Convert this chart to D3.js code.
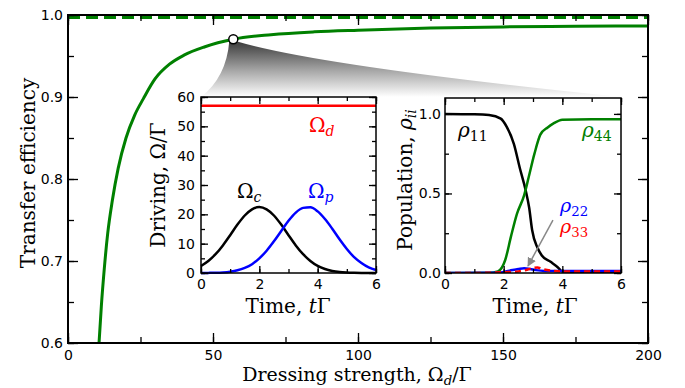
<!DOCTYPE html>
<html>
<head>
<meta charset="utf-8">
<script src="https://cdn.jsdelivr.net/npm/d3@7"></script>
<style>
body { margin: 0; background: #fff; }
.lab { font-family: "DejaVu Serif", serif; font-size: 20px; }
</style>
</head>
<body>
<script>
// main panel: transfer efficiency against dressing strength
const dressing   = [10.7, 11.5, 12.5, 13.7, 15.3, 17.3, 20, 23, 26, 30, 35, 40, 47, 57, 70, 85, 100, 125, 150, 175, 200];
const efficiency = [0.600, 0.645, 0.690, 0.734, 0.774, 0.813, 0.850, 0.878, 0.898, 0.922, 0.940, 0.951, 0.961, 0.9704, 0.976, 0.9795, 0.9815, 0.984, 0.9855, 0.9862, 0.9866];
const idealLevel = 0.997;
const chosenOmega = 57, chosenEff = 0.9704;

// inset 1: driving fields
const driveTime = [0, 0.25, 0.5, 0.75, 1, 1.25, 1.5, 1.75, 2, 2.25, 2.5, 2.75, 3, 3.25, 3.5, 3.75, 4, 4.25, 4.5, 4.75, 5, 5.25, 5.5, 5.75, 6];
const omegaC = [2.4, 4.1, 6.4, 9.4, 12.9, 16.5, 19.6, 21.7, 22.5, 21.7, 19.6, 16.5, 12.9, 9.4, 6.4, 4.1, 2.4, 1.35, 0.7, 0.33, 0.15, 0.06, 0.02, 0.01, 0];
const omegaP = [0.01, 0.04, 0.09, 0.21, 0.46, 0.92, 1.73, 3.0, 5.0, 7.6, 10.8, 14.3, 17.8, 20.6, 22.2, 22.4, 21.0, 18.4, 15.1, 11.5, 8.2, 5.4, 3.4, 1.9, 1.0];
const omegaD = 57;

// inset 2: populations
const rho11Time = [0, 1, 1.5, 1.9, 2.1, 2.35, 2.55, 2.75, 2.87, 2.97, 3.15, 3.3, 3.6, 3.85, 4.0, 5, 6];
const rho11 = [1.0, 0.998, 0.993, 0.97, 0.92, 0.81, 0.66, 0.52, 0.41, 0.27, 0.16, 0.11, 0.07, 0.035, 0.01, 0.005, 0.005];
const rho44Time = [0, 1.5, 1.8, 2.05, 2.25, 2.45, 2.7, 2.85, 3.05, 3.25, 3.5, 3.7, 4.0, 5, 6];
const rho44 = [0, 0.002, 0.01, 0.08, 0.23, 0.37, 0.49, 0.6, 0.75, 0.87, 0.915, 0.94, 0.963, 0.966, 0.966];
const rho22Time = [0, 1.8, 2.2, 2.5, 2.7, 2.9, 3.1, 3.4, 4, 5, 6];
const rho22 = [0, 0.002, 0.015, 0.025, 0.03, 0.025, 0.018, 0.013, 0.012, 0.012, 0.012];
const rho33Time = [0, 1, 1.5, 2, 2.5, 2.8, 3.0, 3.15, 3.3, 3.6, 4, 5, 6];
const rho33 = [0, 0, 0.002, 0.005, 0.01, 0.02, 0.032, 0.035, 0.026, 0.015, 0.01, 0.01, 0.01];

const W = 685, H = 388;
const svg = d3.select("body").append("svg").attr("width", W).attr("height", H);

// SCALES
const xMain = d3.scaleLinear([0, 200], [68, 648]);
const yMain = d3.scaleLinear([0.6, 1.0], [343, 15]);
const xDrv = d3.scaleLinear([0, 6], [201, 376]);
const yDrv = d3.scaleLinear([0, 60], [273, 97]);
const xPop = d3.scaleLinear([0, 6], [445, 621]);
const yPop = d3.scaleLinear([0, 1.1], [273, 98]);

const range = (a, b, s) => d3.range(a, b + s / 2, s);

// draw a boxed frame with inward ticks on all four sides
function frame(g, x, y, o) {
    const [xa, xb] = x.range(), [ya, yb] = y.range();
    const styl = sel => {
        sel.select(".domain").remove();
        sel.attr("font-family", "DejaVu Sans").attr("font-size", 14);
        sel.selectAll("line").attr("stroke-width", 1.3);
        sel.selectAll("text").attr("fill", "#000");
    };
    const put = (axis, tx, ty, vals, size, fmt, pad) => g.append("g")
        .attr("transform", `translate(${tx},${ty})`)
        .call(axis.tickValues(vals).tickSize(-size).tickPadding(pad || 3).tickFormat(fmt || ""))
        .call(styl);
    put(d3.axisBottom(x), 0, ya, o.xMinor, o.small);
    put(d3.axisTop(x), 0, yb, o.xMinor, o.small);
    put(d3.axisLeft(y), xa, 0, o.yMinor, o.small);
    put(d3.axisRight(y), xb, 0, o.yMinor, o.small);
    put(d3.axisBottom(x), 0, ya, o.xMajor, o.big, o.fx, o.padX);
    put(d3.axisTop(x), 0, yb, o.xMajor, o.big);
    put(d3.axisLeft(y), xa, 0, o.yMajor, o.big, o.fy, o.padY);
    put(d3.axisRight(y), xb, 0, o.yMajor, o.big);
    g.append("rect")
        .attr("x", xa).attr("y", yb).attr("width", xb - xa).attr("height", ya - yb)
        .attr("fill", "none").attr("stroke", "#000").attr("stroke-width", o.sw);
}

// MAIN PANEL
const main = svg.append("g");
main.append("clipPath").attr("id", "clipMain").append("rect")
    .attr("x", 68).attr("y", 15).attr("width", 580).attr("height", 328);

main.append("line")
    .attr("x1", xMain(0)).attr("x2", xMain(200))
    .attr("y1", yMain(idealLevel)).attr("y2", yMain(idealLevel))
    .attr("stroke", "#008000").attr("stroke-width", 3).attr("stroke-dasharray", "12,6");

main.append("path")
    .datum(d3.zip(dressing, efficiency))
    .attr("clip-path", "url(#clipMain)")
    .attr("fill", "none").attr("stroke", "#008000").attr("stroke-width", 3)
    .attr("d", d3.line().x(d => xMain(d[0])).y(d => yMain(d[1])).curve(d3.curveMonotoneX));

frame(main, xMain, yMain, {
    xMajor: range(0, 200, 50), xMinor: range(0, 200, 25),
    yMajor: range(0.6, 1.0, 0.1), yMinor: range(0.6, 1.0, 0.05),
    fx: d3.format("d"), fy: d3.format(".1f"), big: 10, small: 6, padX: 7, padY: 5, sw: 2
});

// zoom wedge from the chosen point to the insets
const cx = xMain(chosenOmega), cy = yMain(chosenEff);
const defs = svg.append("defs");
const grad = defs.append("linearGradient").attr("id", "wedge")
    .attr("gradientUnits", "userSpaceOnUse")
    .attr("x1", 0).attr("y1", cy).attr("x2", 0).attr("y2", yDrv(60));
grad.append("stop").attr("offset", 0).attr("stop-color", "#333");
grad.append("stop").attr("offset", 0.55).attr("stop-color", "#a8a8a8");
grad.append("stop").attr("offset", 1).attr("stop-color", "#fff");

const lx = xDrv(0), rx = xPop(6), by = yDrv(60);
svg.append("path")
    .attr("fill", "url(#wedge)")
    .attr("d", `M${cx - 4},${cy + 2} Q${cx - 7},${cy + 38} ${lx},${by} L${rx},${by} Q${cx + 87},${cy + 27} ${cx + 3},${cy + 2} Z`);

svg.append("circle")
    .attr("cx", cx).attr("cy", cy).attr("r", 4.5)
    .attr("fill", "#fff").attr("stroke", "#000").attr("stroke-width", 1.5);

// INSET 1: driving
const drv = svg.append("g");
drv.append("rect").attr("x", 201).attr("y", 97).attr("width", 175).attr("height", 176).attr("fill", "#fff");
const drvLine = d3.line().x((d, i) => xDrv(driveTime[i])).y(d => yDrv(d)).curve(d3.curveMonotoneX);
drv.append("line")
    .attr("x1", xDrv(0)).attr("x2", xDrv(6)).attr("y1", yDrv(omegaD)).attr("y2", yDrv(omegaD))
    .attr("stroke", "#f00").attr("stroke-width", 2.5);
drv.append("path").datum(omegaC).attr("d", drvLine)
    .attr("fill", "none").attr("stroke", "#000").attr("stroke-width", 2.5);
drv.append("path").datum(omegaP).attr("d", drvLine)
    .attr("fill", "none").attr("stroke", "#00f").attr("stroke-width", 2.5);
frame(drv, xDrv, yDrv, {
    xMajor: range(0, 6, 2), xMinor: range(0, 6, 1),
    yMajor: range(0, 60, 10), yMinor: range(0, 60, 5),
    fx: d3.format("d"), fy: d3.format("d"), big: 7, small: 4, padX: 6, padY: 6, sw: 1.5
});

// INSET 2: populations
const pop = svg.append("g");
pop.append("rect").attr("x", 445).attr("y", 98).attr("width", 176).attr("height", 175).attr("fill", "#fff");
pop.append("clipPath").attr("id", "clipPop").append("rect")
    .attr("x", 445).attr("y", 98).attr("width", 176).attr("height", 175);
const popLine = t => d3.line().x((d, i) => xPop(t[i])).y(d => yPop(d)).curve(d3.curveMonotoneX);
const series = [
    [rho11Time, rho11, "#000", null],
    [rho44Time, rho44, "#008000", null],
    [rho22Time, rho22, "#00f", null],
    [rho33Time, rho33, "#f00", "6,4"]
];
series.forEach(([t, v, c, dash]) => {
    pop.append("path").datum(v).attr("d", popLine(t))
        .attr("clip-path", "url(#clipPop)")
        .attr("fill", "none").attr("stroke", c).attr("stroke-width", 2.5)
        .attr("stroke-dasharray", dash);
});
frame(pop, xPop, yPop, {
    xMajor: range(0, 6, 2), xMinor: range(0, 6, 1),
    yMajor: range(0, 1, 0.5), yMinor: range(0, 1, 0.25),
    fx: d3.format("d"), fy: d3.format(".1f"), big: 7, small: 4, padX: 6, padY: 4, sw: 1.5
});

// arrow pointing at the small populations
defs.append("marker").attr("id", "head")
    .attr("viewBox", "0 0 10 10").attr("refX", 9).attr("refY", 5)
    .attr("markerWidth", 9).attr("markerHeight", 9).attr("markerUnits", "userSpaceOnUse")
    .attr("orient", "auto")
    .append("path").attr("d", "M0,0 L10,5 L0,10 Z").attr("fill", "#888");
pop.append("line")
    .attr("x1", xPop(3.68)).attr("y1", yPop(0.333))
    .attr("x2", xPop(2.83)).attr("y2", yPop(0.044))
    .attr("stroke", "#888").attr("stroke-width", 1.5).attr("marker-end", "url(#head)");

// LABELS
// parts: [text, kind]; "i" italic, "sub" italic subscript, "num" upright subscript, "back" return to baseline
function mathLabel(g, x, y, color, parts, rotate, size) {
    const t = g.append("text").attr("class", "lab").attr("fill", color);
    if (size) t.style("font-size", size + "px");
    if (rotate) t.attr("transform", `translate(${x},${y}) rotate(-90)`).attr("text-anchor", "middle");
    else t.attr("x", x).attr("y", y);
    parts.forEach(([s, kind]) => {
        const sp = t.append("tspan").text(s);
        if (kind === "i") sp.attr("font-style", "italic");
        if (kind === "sub") sp.attr("font-style", "italic").attr("font-size", "70%").attr("dy", 4);
        if (kind === "num") sp.attr("font-size", "70%").attr("dy", 4);
        if (kind === "back") sp.attr("dy", -4);
    });
    return t;
}

mathLabel(svg, 357, 381, "#000", [["Dressing strength, Ω"], ["d", "sub"], ["/Γ", "back"]], false, 19)
    .attr("text-anchor", "middle");
mathLabel(svg, 35, 173, "#000", [["Transfer efficiency"]], true);

mathLabel(svg, 165, 185, "#000", [["Driving, Ω/Γ"]], true);
mathLabel(svg, 288, 313, "#000", [["Time, "], ["t", "i"], ["Γ"]], false).attr("text-anchor", "middle");
mathLabel(svg, 412, 180, "#000", [["Population, "], ["ρ", "i"], ["ii", "sub"]], true);
mathLabel(svg, 535, 313, "#000", [["Time, "], ["t", "i"], ["Γ"]], false).attr("text-anchor", "middle");

mathLabel(svg, 237, 198, "#000", [["Ω"], ["c", "sub"]]);
mathLabel(svg, 308, 198, "#00f", [["Ω"], ["p", "sub"]]);
mathLabel(svg, 309, 132, "#f00", [["Ω"], ["d", "sub"]]);

mathLabel(svg, 458, 137, "#000", [["ρ", "i"], ["11", "num"]]);
mathLabel(svg, 582, 137, "#008000", [["ρ", "i"], ["44", "num"]]);
mathLabel(svg, 560, 212, "#00f", [["ρ", "i"], ["22", "num"]], false, 19);
mathLabel(svg, 560, 233, "#f00", [["ρ", "i"], ["33", "num"]], false, 19);
</script>
</body>
</html>
